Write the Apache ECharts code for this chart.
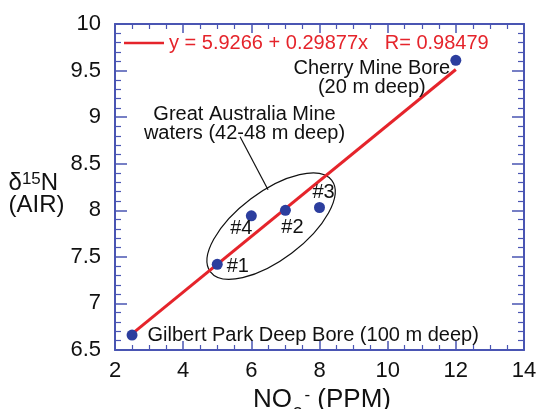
<!DOCTYPE html>
<html><head><meta charset="utf-8">
<script src="https://cdn.jsdelivr.net/npm/echarts@6/dist/echarts.min.js"></script>
<style>html,body{margin:0;padding:0;background:#fff}#c{width:537px;height:409px}</style>
</head><body><div id="c"></div>
<script>
// ---- data ----
const sampleNames = ['Gilbert Park Deep Bore (100 m deep)', '#1', '#4', '#2', '#3', 'Cherry Mine Bore\n(20 m deep)'];
const no3Values = [2.5, 5.0, 6.0, 7.0, 8.0, 12.0];
const d15NValues = [6.66, 7.42, 7.94, 8.0, 8.03, 9.61];
const fitIntercept = 5.9266;
const fitSlope = 0.29877;
const fitR = 0.98479;
const fitXRange = [2.5, 12];
const xTickLabels = [2, 4, 6, 8, 10, 12, 14];
const yTickLabels = [6.5, 7, 7.5, 8, 8.5, 9, 9.5, 10];
const groupLabel = 'Great Australia Mine\nwaters (42-48 m deep)';

// ---- annotation anchors (data coordinates) ----
const groupLabelAt = [5.8, 8.93];
const leaderFrom = [5.67, 8.79];
const leaderTo = [6.49, 8.22];
const ellipseAt = [6.58, 7.83];

// ---- label placement (style) ----
const labelPlacement = [
  {position: 'right', distance: 10, offset: [0, 0]},
  {position: 'right', distance: 4, offset: [0, 2]},
  {position: 'inside', offset: [-10, 13]},
  {position: 'inside', offset: [7, 17]},
  {position: 'inside', offset: [4, -15]},
  {position: 'inside', offset: [-84, 18]}
];

const FONT = '"Liberation Sans", Arial, Helvetica, sans-serif';
const AXIS_COLOR = '#4a55b3';
const RED = '#e5242b';
const DOT = '#2c3e9e';
const fitName = 'y = ' + fitIntercept + ' + ' + fitSlope + 'x   R= ' + fitR;

const chart = echarts.init(document.getElementById('c'), null, {renderer: 'canvas'});

function axisBase(pos, showLabel, isX) {
  return {
    type: 'value',
    position: pos,
    min: isX ? xTickLabels[0] : yTickLabels[0],
    max: isX ? xTickLabels[xTickLabels.length - 1] : yTickLabels[yTickLabels.length - 1],
    interval: isX ? (xTickLabels[1] - xTickLabels[0]) : (yTickLabels[1] - yTickLabels[0]),
    axisLine: {show: true, onZero: false, lineStyle: {color: AXIS_COLOR, width: 2}},
    axisTick: {show: true, inside: true, length: isX ? 9 : 12, lineStyle: {color: AXIS_COLOR, width: 1.5}},
    minorTick: {show: true, splitNumber: isX ? 4 : 5, length: isX ? 5 : 6, lineStyle: {color: AXIS_COLOR, width: 1.2}},
    splitLine: {show: false},
    axisLabel: {show: showLabel, color: '#111', fontSize: 22, fontFamily: FONT, margin: isX ? 10 : 14,
      showMinLabel: true, showMaxLabel: true}
  };
}

const xMain = axisBase('bottom', true, true);
xMain.name = '{a|NO}{sub|3}{sup|-}{a| (PPM)}';
xMain.nameLocation = 'middle';
xMain.nameGap = 35;
xMain.nameTextStyle = {
  padding: [0, 0, 0, 5],
  rich: {
    a: {fontSize: 26, fontFamily: FONT, color: '#111', lineHeight: 26, verticalAlign: 'top'},
    sub: {fontSize: 17, fontFamily: FONT, color: '#111', lineHeight: 16, padding: [19, 0, 0, 1], verticalAlign: 'top'},
    sup: {fontSize: 17, fontFamily: FONT, color: '#111', lineHeight: 16, padding: [0, 0, 0, 2], verticalAlign: 'top'}
  }
};
const xTop = axisBase('top', false, true);

const yMain = axisBase('left', true, false);
yMain.name = '{a|δ}{s|15}{a|N}\n{a|(AIR)}';
yMain.nameLocation = 'middle';
yMain.nameRotate = 0;
yMain.nameGap = 106;
yMain.nameTextStyle = {
  align: 'left',
  verticalAlign: 'middle',
  padding: [12, 0, 0, 0],
  rich: {
    a: {fontSize: 24, fontFamily: FONT, color: '#111', lineHeight: 22, verticalAlign: 'top', align: 'left'},
    s: {fontSize: 17, fontFamily: FONT, color: '#111', lineHeight: 17, verticalAlign: 'top'}
  }
};
const yRight = axisBase('right', false, false);

const scatterData = no3Values.map((x, i) => {
  const p = labelPlacement[i];
  return {
    name: sampleNames[i],
    value: [x, d15NValues[i]],
    label: {
      show: true,
      position: p.position,
      distance: p.distance || 0,
      offset: p.offset,
      formatter: sampleNames[i],
      align: p.position === 'right' ? 'left' : 'center',
      verticalAlign: 'middle',
      color: '#111',
      opacity: 1,
      fontSize: 20,
      lineHeight: 19,
      fontFamily: FONT
    }
  };
});

const fitData = fitXRange.map(x => [x, fitIntercept + fitSlope * x]);

chart.setOption({
  animation: false,
  backgroundColor: '#fff',
  grid: {left: 115, right: 13, top: 24, bottom: 59, containLabel: false, outerBoundsMode: 'none'},
  legend: {
    show: true,
    data: [{name: fitName, icon: 'rect'}],
    left: 124, top: 33,
    padding: 0,
    itemWidth: 40, itemHeight: 2.5,
    textStyle: {color: RED, fontSize: 20, fontFamily: FONT},
    selectedMode: false
  },
  xAxis: [xMain, xTop],
  yAxis: [yMain, yRight],
  series: [
    {
      name: fitName,
      type: 'line',
      data: fitData,
      symbol: 'none',
      lineStyle: {color: RED, width: 3},
      itemStyle: {color: RED},
      silent: true,
      z: 2
    },
    {
      name: 'samples',
      type: 'scatter',
      data: scatterData,
      symbol: 'circle',
      symbolSize: 11,
      itemStyle: {color: DOT, opacity: 1},
      z: 3
    }
  ]
});

function px(p) { return chart.convertToPixel({gridIndex: 0}, p); }

const ec = px(ellipseAt);
const lf = px(leaderFrom);
const lt = px(leaderTo);
const gl = px(groupLabelAt);

chart.setOption({
  graphic: [
    {
      type: 'ellipse',
      x: ec[0], y: ec[1],
      rotation: 37 * Math.PI / 180,
      shape: {cx: 0, cy: 0, rx: 76, ry: 34},
      style: {fill: 'none', stroke: '#111', lineWidth: 1.2},
      silent: true, z: 1
    },
    {
      type: 'line',
      shape: {x1: lf[0], y1: lf[1], x2: lt[0], y2: lt[1]},
      style: {stroke: '#111', lineWidth: 1.2},
      silent: true, z: 1
    },
    {
      type: 'text',
      x: gl[0], y: gl[1],
      style: {text: groupLabel, fill: '#111', font: '20px ' + FONT, align: 'center', verticalAlign: 'middle', lineHeight: 19},
      silent: true, z: 5
    }
  ]
});
</script>
</body></html>
